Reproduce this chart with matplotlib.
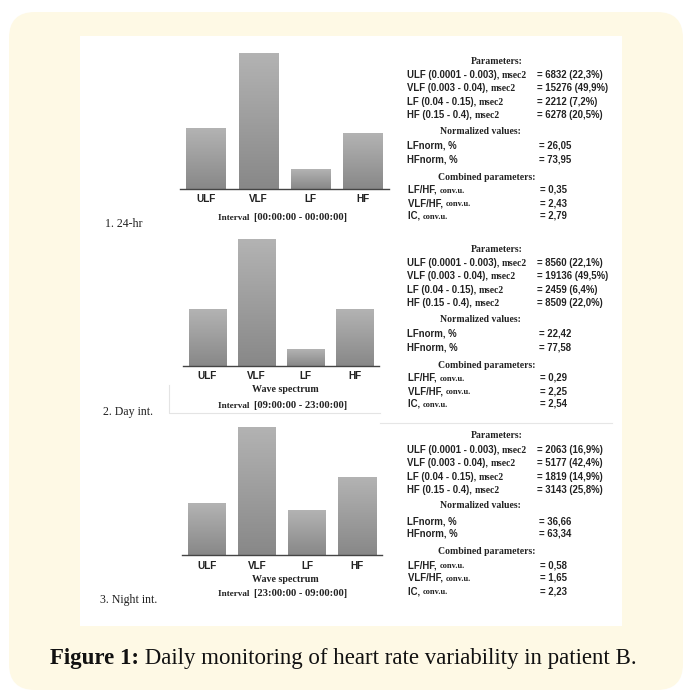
import matplotlib

matplotlib.use("Agg")
import matplotlib.pyplot as plt
import numpy as np
from matplotlib.patches import FancyBboxPatch, Rectangle

W, H = 690, 699

bands = ["ULF", "VLF", "LF", "HF"]
band_ranges = ["ULF (0.0001 - 0.003), ", "VLF (0.003 - 0.04), ",
               "LF (0.04 - 0.15), ", "HF (0.15 - 0.4), "]

# power, msec2 and share of total, %
power_24h = [6832, 15276, 2212, 6278]
share_24h = [22.3, 49.9, 7.2, 20.5]
norm_24h = [26.05, 73.95]
comb_24h = [0.35, 2.43, 2.79]

power_day = [8560, 19136, 2459, 8509]
share_day = [22.1, 49.5, 6.4, 22.0]
norm_day = [22.42, 77.58]
comb_day = [0.29, 2.25, 2.54]

power_night = [2063, 5177, 1819, 3143]
share_night = [16.9, 42.4, 14.9, 25.8]
norm_night = [36.66, 63.34]
comb_night = [0.58, 1.65, 2.23]

panel_names = ["1. 24-hr", "2. Day int.", "3. Night int."]
intervals = ["[00:00:00 - 00:00:00]", "[09:00:00 - 23:00:00]", "[23:00:00 - 09:00:00]"]
has_wave_label = [False, True, True]

SANS = "Liberation Sans"
SERIF = "Liberation Serif"
INK = "#222222"


def comma(v, nd):
    return f"{v:.{nd}f}".replace(".", ",")


fig = plt.figure(figsize=(W / 100, H / 100), dpi=100)
bg = fig.add_axes([0, 0, 1, 1])
bg.set_xlim(0, W)
bg.set_ylim(H, 0)
bg.axis("off")

bg.add_patch(FancyBboxPatch((9, 12), 674, 678,
                            boxstyle="round,pad=0,rounding_size=26",
                            fc="#fef9e5", ec="none"))
bg.add_patch(Rectangle((80, 36), 542, 590, fc="white", ec="none"))

# faint scan lines of the inserted picture
bg.plot([380, 612], [423, 423], color="#e6e6e6", lw=0.8)
bg.plot([169, 169, 380], [385, 413, 413], color="#e4e4e4", lw=0.8)

# pieces of text set on one baseline, drawn after the layout is known
pending = []


def line(x, y, parts, drop=3):
    """parts: list of (string, text kwargs); y is the visual middle of the line."""
    pending.append((x, y + drop, parts))


# chart geometry per panel: (left px, right px, top px, baseline px)
geoms = [(180, 389, 53, 189), (183, 379, 239, 366), (182, 382, 427, 555)]
label_y = [199, 376, 566]
wave_y = [None, 390, 579]
interval_y = [217, 405, 593]
name_pos = [(105, 224), (103, 412), (100, 600)]
block_top = [61, 249, 436]

powers = [power_24h, power_day, power_night]
shares = [share_24h, share_day, share_night]
norms = [norm_24h, norm_day, norm_night]
combs = [comb_24h, comb_day, comb_night]

grad = np.linspace(0, 1, 100).reshape(-1, 1)
cmap = matplotlib.colors.LinearSegmentedColormap.from_list("g", ["#888888", "#b3b3b3"])

hdr = dict(fontsize=7, fontweight="bold", family=SERIF, color=INK)
row = dict(fontsize=6.9, fontweight="bold", family=SANS, color=INK)
unit = dict(fontsize=6.9, fontweight="bold", family=SERIF, color=INK)
small_unit = dict(fontsize=6.0, fontweight="bold", family=SERIF, color=INK)

for i in range(3):
    l, r, t, b = geoms[i]
    ax = fig.add_axes([l / W, 1 - b / H, (r - l) / W, (b - t) / H])
    x = np.arange(len(bands))
    vals = powers[i]
    bars = ax.bar(x, vals, width=0.76, color="#9c9c9c", edgecolor="none")
    for rect in bars:
        x0 = rect.get_x()
        ax.imshow(grad, extent=(x0, x0 + rect.get_width(), 0, rect.get_height()),
                  origin="lower", aspect="auto", cmap=cmap, zorder=2)
    ax.set_xlim(-0.5, 3.5)
    ax.set_ylim(0, max(vals))
    for s in ["top", "right", "left"]:
        ax.spines[s].set_visible(False)
    ax.spines["bottom"].set_color("#444444")
    ax.spines["bottom"].set_linewidth(1.0)
    ax.set_yticks([])
    ax.set_xticks([])
    ax.patch.set_alpha(0)

    for k, name in enumerate(bands):
        cx = l + (r - l) * (k + 0.5) / 4
        bg.text(cx, label_y[i], name, fontsize=7.2, fontweight="bold", family=SANS,
                color=INK, ha="center", va="center")

    if has_wave_label[i]:
        bg.text(285, wave_y[i], "Wave spectrum", fontsize=7.2, fontweight="bold",
                family=SERIF, color=INK, ha="center", va="center")
    line(218, interval_y[i], [("Interval  ", dict(fontsize=6.6, fontweight="bold",
                                                   family=SERIF, color=INK)),
                              (intervals[i], dict(fontsize=7.6, fontweight="bold",
                                                  family=SERIF, color=INK))])

    bg.text(*name_pos[i], panel_names[i], fontsize=8.6, family=SERIF,
            color=INK, ha="left", va="center")

    # parameter block
    y0 = block_top[i]
    offs = [0, 14, 27, 41, 54, 70, 85, 98, 116, 129, 142, 155]
    ys = [y0 + o for o in offs]

    bg.text(497, ys[0], "Parameters:", ha="center", va="center", **hdr)
    for k in range(4):
        line(407, ys[1 + k], [(band_ranges[k], row), ("msec2", unit)])
        line(537, ys[1 + k], [(f"= {powers[i][k]} ({comma(shares[i][k], 1)}%)", row)])

    bg.text(480, ys[5], "Normalized values:", ha="center", va="center", **hdr)
    for k, lab in enumerate(["LFnorm, %", "HFnorm, %"]):
        line(407, ys[6 + k], [(lab, row)])
        line(539, ys[6 + k], [(f"= {comma(norms[i][k], 2)}", row)])

    bg.text(487, ys[8], "Combined parameters:", ha="center", va="center", **hdr)
    for k, lab in enumerate(["LF/HF, ", "VLF/HF, ", "IC, "]):
        line(408, ys[9 + k], [(lab, row), ("conv.u.", small_unit)])
        line(540, ys[9 + k], [(f"= {comma(combs[i][k], 2)}", row)])

# caption
line(50, 658, [("Figure 1:", dict(fontsize=16.5, fontweight="bold", family=SERIF,
                                  color="#111111")),
               (" Daily monitoring of heart rate variability in patient B.",
                dict(fontsize=16.5, family=SERIF, color="#111111"))], drop=6)

# lay out the baseline-joined pieces
fig.canvas.draw()
renderer = fig.canvas.get_renderer()
inv = bg.transData.inverted()
for x, y, parts in pending:
    cur = x
    for s, kw in parts:
        tx = bg.text(cur, y, s, ha="left", va="baseline", **kw)
        bb = tx.get_window_extent(renderer)
        cur = inv.transform((bb.x1, bb.y0))[0]

fig.savefig("out.png", dpi=100)
